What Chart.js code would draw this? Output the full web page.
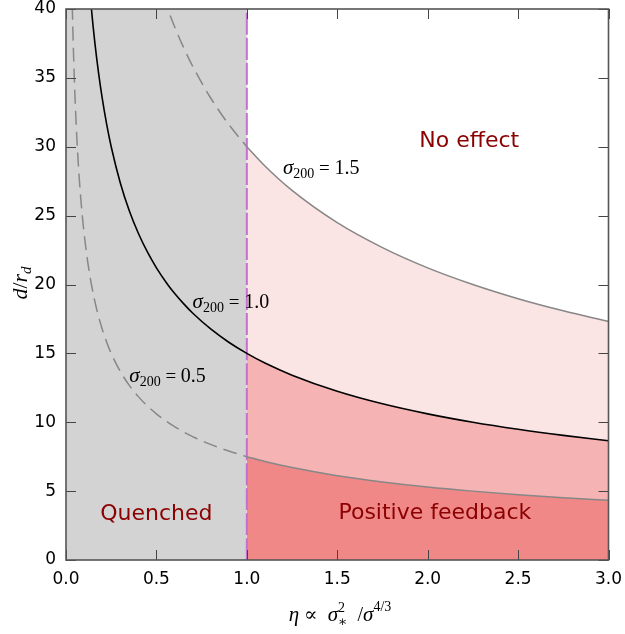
<!DOCTYPE html>
<html>
<head>
<meta charset="utf-8">
<script src="https://cdn.jsdelivr.net/npm/chart.js@4"></script>
<style>
  body { margin: 0; background: #fff; }
  canvas { display: block; }
</style>
</head>
<body>
<canvas id="myChart" width="625" height="634"></canvas>
<script>
// eta values sampled along the curves
const eta = [0.03, 0.035, 0.04, 0.045, 0.05, 0.06, 0.07, 0.08, 0.09, 0.1,
  0.12, 0.14, 0.16, 0.18, 0.2, 0.225, 0.25, 0.3, 0.35, 0.4, 0.45, 0.5,
  0.56, 0.6, 0.65, 0.7, 0.8, 0.9, 1.0, 1.1, 1.25, 1.5, 1.75, 2.0, 2.25, 2.5, 2.75, 3.0];

// d/r_d for each sigma_200
const dSigma15 = [null, null, null, null, null, null, null, null, null, null,
  null, null, null, null, null, null, null, null, null, null, null, 42.43,
  40.09, 38.73, 37.21, 35.86, 33.54, 31.62, 30.00, 28.60, 26.83, 24.49, 22.68, 21.21, 20.00, 18.97, 18.09, 17.32];
const dSigma10 = [null, null, null, null, null, null, null, null, null, 47.43,
  43.30, 40.09, 37.50, 35.36, 33.54, 31.62, 30.00, 27.39, 25.35, 23.72, 22.36, 21.21,
  20.04, 19.36, 18.61, 17.93, 16.77, 15.81, 15.00, 14.30, 13.42, 12.25, 11.34, 10.61, 10.00, 9.49, 9.05, 8.66];
const dSigma05 = [43.30, 40.09, 37.50, 35.36, 33.54, 30.62, 28.35, 26.52, 25.00, 23.72,
  21.65, 20.04, 18.75, 17.68, 16.77, 15.81, 15.00, 13.69, 12.68, 11.86, 11.18, 10.61,
  10.02, 9.68, 9.30, 8.96, 8.39, 7.91, 7.50, 7.15, 6.71, 6.12, 5.67, 5.30, 5.00, 4.74, 4.52, 4.33];

const etaThreshold = 1.0;
const xTicks = [0, 0.5, 1.0, 1.5, 2.0, 2.5, 3.0];
const yTicks = [0, 5, 10, 15, 20, 25, 30, 35, 40];

const regionLabels = [
  { text: "No effect", x: 2.23, y: 30.0 },
  { text: "Quenched", x: 0.50, y: 2.9 },
  { text: "Positive feedback", x: 2.04, y: 3.0 }
];
const curveLabels = [
  { value: "1.5", x: 1.20, y: 28.0 },
  { value: "1.0", x: 0.70, y: 18.3 },
  { value: "0.5", x: 0.35, y: 12.9 }
];

function pts(ys, lo, hi) {
  return eta.map((x, i) => ({ x: x, y: ys[i] }))
    .filter(p => p.y !== null && p.x >= lo && p.x <= hi);
}

const grayCurve = "#878787";
const dash = [14, 7];

function lineSet(data, color, width, d, order) {
  return {
    data: data, borderColor: color, borderWidth: width, borderDash: d,
    fill: false, pointRadius: 0, cubicInterpolationMode: "monotone", order: order
  };
}
function fillSet(data, color, order) {
  return {
    data: data, borderWidth: 0, borderColor: "rgba(0,0,0,0)", backgroundColor: color,
    fill: "origin", pointRadius: 0, cubicInterpolationMode: "monotone", order: order
  };
}

const datasets = [
  lineSet(pts(dSigma05, 0, etaThreshold), grayCurve, 1.5, dash, 1),
  lineSet(pts(dSigma15, 0, etaThreshold), grayCurve, 1.5, dash, 1),
  lineSet(pts(dSigma05, etaThreshold, 3), grayCurve, 1.5, [], 1),
  lineSet(pts(dSigma15, etaThreshold, 3), grayCurve, 1.5, [], 1),
  lineSet(pts(dSigma10, 0, 3), "#000000", 1.6, [], 1),
  lineSet([{ x: etaThreshold, y: 0 }, { x: etaThreshold, y: 40 }], "#c46fd2", 2, [22, 3], 2),
  fillSet(pts(dSigma05, etaThreshold, 3), "#f08888", 5),
  fillSet(pts(dSigma10, etaThreshold, 3), "#f5b3b3", 6),
  fillSet(pts(dSigma15, etaThreshold, 3), "#fbe4e4", 7),
  fillSet([{ x: 0, y: 40 }, { x: etaThreshold, y: 40 }], "#d3d3d3", 8)
];

const serif = "'Liberation Serif', 'DejaVu Serif', serif";

// draws a run of text pieces with their own font and baseline shift
function drawRich(ctx, parts, x, y, align) {
  let total = 0;
  parts.forEach(p => { ctx.font = p.font; p.w = p.w0 !== undefined ? p.w0 : ctx.measureText(p.t).width; total += p.w; });
  let cx = align === "center" ? x - total / 2 : x;
  ctx.textAlign = "left";
  ctx.textBaseline = "alphabetic";
  parts.forEach(p => {
    ctx.font = p.font;
    ctx.fillText(p.t, cx, y + (p.dy || 0));
    cx += p.w;
  });
}

const decorations = {
  id: "decorations",
  afterDatasetsDraw(chart) {
    const ctx = chart.ctx;
    const a = chart.chartArea;
    const xs = chart.scales.x, ys = chart.scales.y;
    ctx.save();
    ctx.strokeStyle = "#444";
    ctx.lineWidth = 1;
    const tl = 10;
    xTicks.forEach(v => {
      const px = Math.round(xs.getPixelForValue(v)) + 0.5;
      ctx.beginPath();
      ctx.moveTo(px, a.bottom); ctx.lineTo(px, a.bottom - tl);
      ctx.moveTo(px, a.top); ctx.lineTo(px, a.top + tl);
      ctx.stroke();
    });
    yTicks.forEach(v => {
      const py = Math.round(ys.getPixelForValue(v)) + 0.5;
      ctx.beginPath();
      ctx.moveTo(a.left, py); ctx.lineTo(a.left + tl, py);
      ctx.moveTo(a.right, py); ctx.lineTo(a.right - tl, py);
      ctx.stroke();
    });
    ctx.lineWidth = 1.6;
    ctx.strokeStyle = "#555";
    ctx.strokeRect(a.left, a.top, a.right - a.left, a.bottom - a.top);

    // region names
    ctx.fillStyle = "#8b0000";
    ctx.font = "22px 'DejaVu Sans'";
    ctx.textAlign = "center";
    ctx.textBaseline = "alphabetic";
    regionLabels.forEach(l => {
      ctx.fillText(l.text, xs.getPixelForValue(l.x), ys.getPixelForValue(l.y));
    });

    // curve labels
    ctx.fillStyle = "#000";
    curveLabels.forEach(l => {
      drawRich(ctx, [
        { t: "σ", font: "italic 21px " + serif },
        { t: "200", font: "14px " + serif, dy: 4 },
        { t: " = ", font: "19px " + serif },
        { t: l.value, font: "20px " + serif }
      ], xs.getPixelForValue(l.x), ys.getPixelForValue(l.y), "left");
    });

    // x axis title
    drawRich(ctx, [
      { t: "η", font: "italic 21px " + serif },
      { t: " ∝  ", font: "20px " + serif },
      { t: "σ", font: "italic 21px " + serif },
      { t: "2", font: "14px " + serif, dy: -9, w0: 0 },
      { t: "∗", font: "14px " + serif, dy: 5 },
      { t: "  /", font: "20px " + serif },
      { t: "σ", font: "italic 21px " + serif },
      { t: "4/3", font: "14px " + serif, dy: -10 }
    ], 340, 621, "center");

    // y axis title
    ctx.translate(27, 283);
    ctx.rotate(-Math.PI / 2);
    drawRich(ctx, [
      { t: "d", font: "italic 22px " + serif },
      { t: "/", font: "22px " + serif },
      { t: "r", font: "italic 22px " + serif },
      { t: "d", font: "italic 15px " + serif, dy: 4 }
    ], 0, 0, "center");
    ctx.restore();
  }
};

const myChart = new Chart(document.getElementById("myChart"), {
  type: "line",
  data: { datasets: datasets },
  options: {
    responsive: false,
    animation: false,
    layout: { padding: { left: 0, top: 9, right: 16.5, bottom: 0 } },
    plugins: { legend: { display: false }, tooltip: { enabled: false } },
    scales: {
      x: {
        type: "linear", min: 0, max: 3,
        afterBuildTicks: s => { s.ticks = xTicks.map(v => ({ value: v })); },
        afterFit: s => { s.height = 74; s.paddingLeft = 0; s.paddingRight = 0; },
        grid: { display: false, drawTicks: false },
        border: { display: false },
        ticks: {
          padding: 9, color: "#000",
          font: { family: "DejaVu Sans", size: 17 },
          maxRotation: 0,
          callback: v => v.toFixed(1)
        }
      },
      y: {
        type: "linear", min: 0, max: 40,
        afterBuildTicks: s => { s.ticks = yTicks.map(v => ({ value: v })); },
        afterFit: s => { s.width = 66; s.paddingTop = 0; s.paddingBottom = 0; },
        grid: { display: false, drawTicks: false },
        border: { display: false },
        ticks: {
          padding: 10, color: "#000",
          font: { family: "DejaVu Sans", size: 17 },
          callback: v => String(v)
        }
      }
    }
  },
  plugins: [decorations]
});
</script>
</body>
</html>
